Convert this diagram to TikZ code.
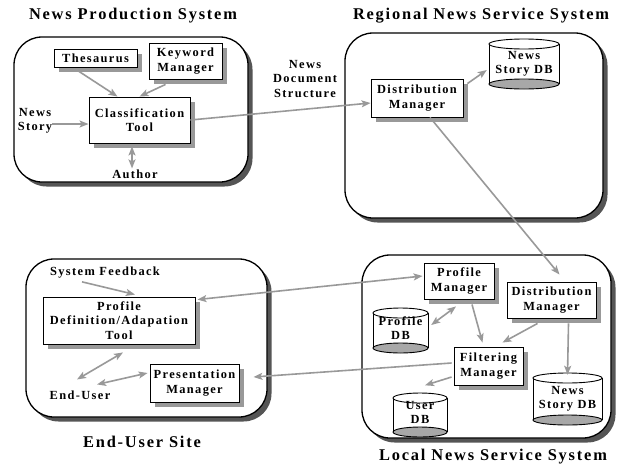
\documentclass[tikz,border=0pt]{standalone}
\usepackage{fontspec}
\setmainfont{Liberation Serif}
\newfontfamily\labfont{Liberation Serif}[LetterSpace=11]
\newfontfamily\ttlfont{Liberation Serif}[LetterSpace=11]
\usetikzlibrary{shadows,arrows.meta}
\definecolor{arrowgray}{HTML}{999999}
\definecolor{boxshadow}{HTML}{999999}
\definecolor{regshadow}{HTML}{555555}
\definecolor{dbgray}{HTML}{A8A8A8}
\tikzset{
  region/.style={draw, line width=1.3pt, rounded corners=28pt, fill=white,
    general shadow={fill=regshadow, shadow xshift=4.5pt, shadow yshift=-4.5pt}, inner sep=0pt},
  box/.style={draw, line width=0.9pt, fill=white,
    general shadow={fill=boxshadow, shadow xshift=5pt, shadow yshift=-5pt},
    inner sep=0pt, align=center, font=\labfont\bfseries\fontsize{12.4}{14.5}\selectfont},
  dbtext/.style={inner sep=0pt, align=center, font=\labfont\bfseries\fontsize{12.4}{14}\selectfont},
  lab/.style={inner sep=0pt, align=center, font=\labfont\bfseries\fontsize{12.4}{14.5}\selectfont},
  ttl/.style={inner sep=0pt, font=\ttlfont\bfseries\fontsize{16.4}{19}\selectfont},
  tip/.tip={Stealth[length=9pt,width=7pt,inset=2pt]},
  conn/.style={draw=arrowgray, line width=1.6pt, -tip},
  conn2/.style={draw=arrowgray, line width=1.6pt, tip-tip}
}
\newcommand{\dbcyl}[7][0]{%
  \path[fill=white] (#3-#5/2,#4-#6/2+5) rectangle (#3+#5/2,#4+#6/2-5);
  \draw[line width=0.9pt, fill=dbgray] (#3,#4+#6/2-5) ellipse [x radius=#5/2, y radius=5];
  \draw[line width=0.9pt] (#3-#5/2,#4-#6/2+5) -- (#3-#5/2,#4+#6/2-5)
                          (#3+#5/2,#4-#6/2+5) -- (#3+#5/2,#4+#6/2-5);
  \draw[line width=0.9pt, fill=white] (#3,#4-#6/2+5) ellipse [x radius=#5/2, y radius=5];
  \node[dbtext, minimum width=#5pt, minimum height=#6pt] (#2) at (#3,#4+#1) {#7};
}
\begin{document}
\begin{tikzpicture}[x=1pt,y=-1pt]
\useasboundingbox (0,0) rectangle (617,471);
% regions
\node[region, minimum width=234pt, minimum height=145pt] (nps) at (131,109.5) {};
\node[region, minimum width=258pt, minimum height=185pt] (rns) at (474,125.5) {};
\node[region, minimum width=241pt, minimum height=158pt] (eus) at (146.5,338) {};
\node[region, minimum width=249pt, minimum height=183pt] (lns) at (486.5,346.5) {};
% titles
\node[ttl] (tnps) at (133,16) {News Production System};
\node[ttl] (trns) at (481,16) {Regional News Service System};
\node[ttl] (teus) at (142,442) {End-User Site};
\node[ttl] (tlns) at (493,457) {Local News Service System};
% News production system
\node[box, minimum width=83pt, minimum height=18pt] (thes) at (95.5,58) {Thesaurus};
\node[box, minimum width=73pt, minimum height=36pt] (kw) at (185.5,61) {Keyword\\Manager};
\node[box, minimum width=101pt, minimum height=46pt] (class) at (139.5,120) {Classification\\Tool};
\node[lab] (story) at (35,121) {News\\Story};
\node[lab] (author) at (135,174) {Author};
\node[lab] (nds) at (305,79) {News\\Document\\Structure};
% regional
\node[box, minimum width=92pt, minimum height=38pt] (dm1) at (417,98) {Distribution\\Manager};
\dbcyl{db1}{524}{64}{70}{50}{News\\Story DB}
% end-user site
\node[lab] (sf) at (105,273) {System Feedback};
\node[box, minimum width=152pt, minimum height=47pt] (pdt) at (119,320.5) {Profile\\Definition/Adapation\\Tool};
\node[box, minimum width=89pt, minimum height=38pt] (pres) at (194.5,383) {Presentation\\Manager};
\node[lab] (eu) at (80,395) {End-User};
% local
\node[box, minimum width=70pt, minimum height=36pt] (pm) at (459,281) {Profile\\Manager};
\node[box, minimum width=89pt, minimum height=36pt] (dm2) at (551.5,300) {Distribution\\Manager};
\node[box, minimum width=69pt, minimum height=38pt] (fm) at (488.5,366) {Filtering\\Manager};
\dbcyl[-2.5]{pdb}{400.5}{330.5}{55}{45}{Profile\\DB}
\dbcyl[-2.5]{udb}{420}{415}{54}{44}{User\\DB}
\dbcyl{db2}{567.5}{399}{69}{52}{News\\Story DB}
% connectors
\draw[conn] ([yshift=-3pt]story.east) -- ([yshift=-3pt]story.east -| class.west);
\draw[conn] ([xshift=-18pt,yshift=-3pt]thes.south) -- ([xshift=-22pt]class.north);
\draw[conn] ([xshift=-20pt,yshift=-5pt]kw.south) -- (class.north);
\draw[conn2] ([xshift=-3pt,yshift=1pt]author.north) -- ([xshift=-3pt,yshift=-3pt]author.north |- class.south);
\draw[conn] (class.east) -- ([yshift=-5pt]dm1.west);
\draw[conn] ([xshift=4pt,yshift=-5pt]dm1.north east) -- ([xshift=-2pt,yshift=-6pt]db1.west);
\draw[conn] ([xshift=13pt]dm1.south) -- ([xshift=8pt,yshift=7pt]dm2.north);
\draw[conn2] ([xshift=2pt,yshift=-3pt]pdt.north east) -- ([xshift=-1pt,yshift=5pt]pm.west);
\draw[conn] ([xshift=-2pt,yshift=3pt]fm.west) -- ([xshift=14pt,yshift=6pt]pres.east);
\draw[conn] ([xshift=-23pt,yshift=-3pt]sf.south) -- ([xshift=16pt,yshift=2pt]pdt.north);
\draw[conn2] ([xshift=-3pt,yshift=11pt]eu.north) -- ([xshift=4pt,yshift=-8pt]pdt.south);
\draw[conn2] ([xshift=17pt,yshift=6pt]eu.north) -- ([xshift=-2pt,yshift=10pt]pres.west);
\draw[conn] ([xshift=13pt,yshift=-5pt]pm.south) -- ([xshift=-6pt,yshift=4pt]fm.north);
\draw[conn] ([xshift=-14pt,yshift=-5pt]dm2.south) -- ([xshift=14pt,yshift=4pt]fm.north);
\draw[conn2] ([xshift=-3pt,yshift=-7pt]pm.south) -- ([xshift=3pt,yshift=3pt]pdb.east);
\draw[conn] ([xshift=17pt,yshift=-5pt]dm2.south) -- ([yshift=-2pt]db2.north);
\draw[conn] ([xshift=-2pt,yshift=-11pt]fm.west) -- ([xshift=5pt,yshift=5pt]udb.north);
\end{tikzpicture}
\end{document}
